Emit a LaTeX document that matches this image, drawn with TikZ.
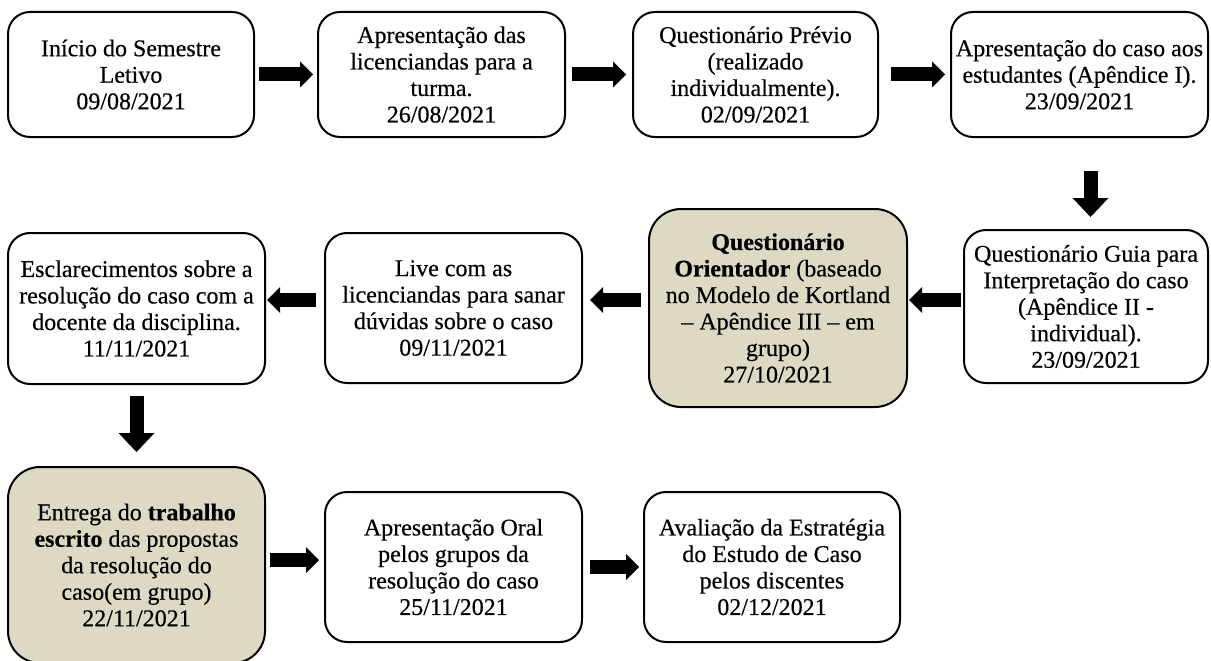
\documentclass[tikz,border=0pt]{standalone}
\usepackage{fontspec}
\setmainfont{Liberation Serif}[FakeBold=0.4]
\usetikzlibrary{arrows.meta}
\definecolor{tanfill}{HTML}{DDD9C3}
\begin{document}
\begin{tikzpicture}[x=1pt,y=-1pt,
  box/.style={draw, line width=2pt, rounded corners=22pt, inner sep=0pt, align=center,
    font=\fontsize{24}{26.5}\selectfont, fill=white},
  hlbox/.style={box, fill=tanfill, rounded corners=32pt},
  harrow/.style={line width=14pt, -{Triangle[length=13pt,width=26pt,line width=0pt]}},
  varrow/.style={line width=14pt, -{Triangle[length=19pt,width=36pt,line width=0pt]}}]
\useasboundingbox (0,0) rectangle (1211,661);
% row 1
\node[box, minimum width=246pt, minimum height=125pt] (A) at (131,74.5)
  {Início do Semestre\\Letivo\\09/08/2021};
\node[box, minimum width=247pt, minimum height=125pt] (B) at (441.5,74.5)
  {Apresentação das\\licenciandas para a\\turma.\\26/08/2021};
\node[box, minimum width=245pt, minimum height=125pt] (C) at (755.5,74.5)
  {Questionário Prévio\\(realizado\\individualmente).\\02/09/2021};
\node[box, minimum width=257pt, minimum height=125pt] (D) at (1079.5,74.5)
  {Apresentação do caso aos\\estudantes (Apêndice I).\\23/09/2021};
% row 2
\node[box, minimum width=244pt, minimum height=153pt] (E) at (1086,306.5)
  {Questionário Guia para\\Interpretação do caso\\(Apêndice II -\\individual).\\23/09/2021};
\node[hlbox, minimum width=258pt, minimum height=198pt] (F) at (778,308)
  {\textbf{Questionário}\\\textbf{Orientador} (baseado\\no Modelo de Kortland\\– Apêndice III – em\\grupo)\\27/10/2021};
\node[box, minimum width=257pt, minimum height=150pt] (G) at (453.5,308)
  {Live com as\\licenciandas para sanar\\dúvidas sobre o caso\\09/11/2021};
\node[box, minimum width=257pt, minimum height=151pt] (H) at (136.5,308.5)
  {Esclarecimentos sobre a\\resolução do caso com a\\docente da disciplina.\\11/11/2021};
% row 3
\node[hlbox, minimum width=257pt, minimum height=196pt] (I) at (136.5,565)
  {Entrega do \textbf{trabalho}\\\textbf{escrito} das propostas\\da resolução do\\caso(em grupo)\\22/11/2021};
\node[box, minimum width=257pt, minimum height=150pt] (J) at (453.5,567)
  {Apresentação Oral\\pelos grupos da\\resolução do caso\\25/11/2021};
\node[box, minimum width=256pt, minimum height=150pt] (K) at (772,567)
  {Avaliação da Estratégia\\do Estudo de Caso\\pelos discentes\\02/12/2021};
% connectors
\draw[harrow, shorten <=4pt, shorten >=4pt] (A.east) -- (B.west);
\draw[harrow, shorten <=6pt, shorten >=6pt] (B.east) -- (C.west);
\draw[harrow, shorten <=12pt, shorten >=5pt] (C.east) -- (D.west);
\coordinate (de) at ([xshift=11pt]D.south);
\draw[varrow, shorten <=33pt, shorten >=12pt] (de) -- (de |- E.north);
\coordinate (ef) at ([yshift=6.5pt]E.west);
\draw[harrow, shorten <=2pt, shorten >=1pt] (ef) -- (ef -| F.east);
\coordinate (fg) at ([yshift=8pt]F.west);
\draw[harrow, shorten <=7pt, shorten >=7pt] (fg) -- (fg -| G.east);
\coordinate (gh) at ([yshift=8pt]G.west);
\draw[harrow, shorten <=8pt, shorten >=1pt] (gh) -- (gh -| H.east);
\draw[varrow, shorten <=11pt, shorten >=14pt] (H.south) -- (H.south |- I.north);
\coordinate (ij) at ([yshift=5pt]I.east);
\draw[harrow, shorten <=4pt, shorten >=5pt] (ij) -- (ij -| J.west);
\draw[harrow, shorten <=7pt, shorten >=4pt] (J.east) -- (K.west);
\end{tikzpicture}
\end{document}
